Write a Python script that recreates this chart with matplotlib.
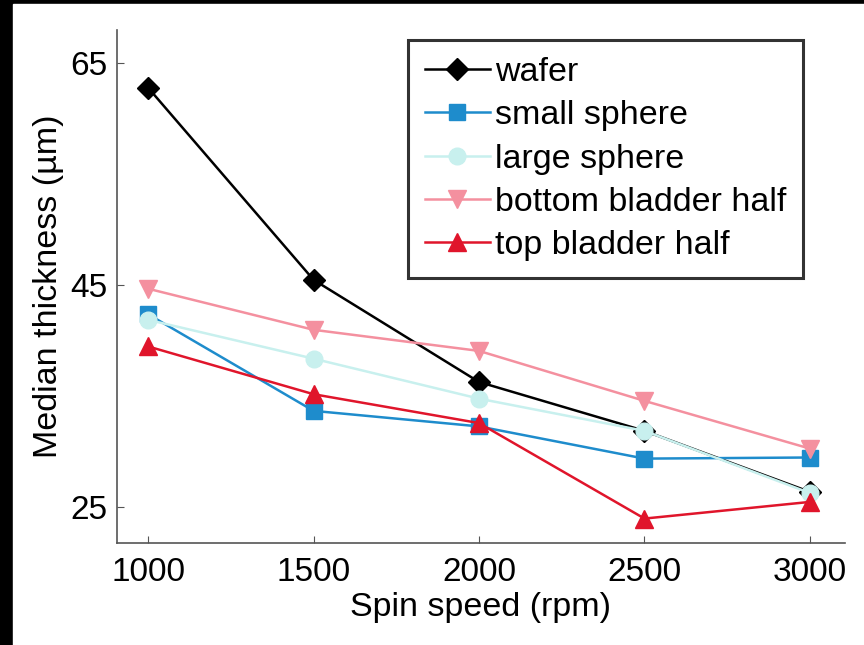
import matplotlib
matplotlib.use("Agg")
import matplotlib.pyplot as plt
from matplotlib.patches import Rectangle

plt.rcParams['font.family'] = ['Liberation Sans', 'DejaVu Sans']

speeds = [1000, 1500, 2000, 2500, 3000]
wafer = [62.8, 45.5, 36.3, 31.9, 26.4]
small_sphere = [42.4, 33.7, 32.3, 29.4, 29.5]
large_sphere = [41.9, 38.4, 34.8, 31.9, 26.3]
bottom_half = [44.7, 41.0, 39.1, 34.6, 30.3]
top_half = [39.5, 35.2, 32.6, 24.0, 25.5]

fig = plt.figure(figsize=(8.64, 6.45), dpi=100, facecolor='black')
# white paper inside black scan border
fig.patches.append(Rectangle((13 / 864, 0), 1, (645 - 4) / 645,
                             transform=fig.transFigure, color='white', zorder=-10))

ax = fig.add_axes([117 / 864, (645 - 543) / 645, (845 - 117) / 864, (543 - 30) / 645])
ax.set_facecolor('white')

ax.plot(speeds, wafer, color='black', marker='D', ms=11, lw=1.8, label='wafer')
ax.plot(speeds, small_sphere, color='#1e8ccc', marker='s', ms=12, lw=1.8, label='small sphere')
ax.plot(speeds, large_sphere, color='#c8f0ee', marker='o', ms=12, lw=1.8, label='large sphere')
ax.plot(speeds, bottom_half, color='#f4909f', marker='v', ms=13, lw=1.8, label='bottom bladder half')
ax.plot(speeds, top_half, color='#e0152b', marker='^', ms=13, lw=1.8, label='top bladder half')

ax.set_xlim(906, 3106)
ax.set_ylim(21.8, 68)
ax.set_xticks(speeds)
ax.set_yticks([25, 45, 65])
ax.tick_params(direction='in', length=5, width=0.8, labelsize=24, color='#555555', pad=7)
ax.tick_params(axis='x', pad=10)
for s in ['top', 'right']:
    ax.spines[s].set_visible(False)
for s in ['left', 'bottom']:
    ax.spines[s].set_color('#555555')
    ax.spines[s].set_linewidth(1.2)

ax.set_xlabel('Spin speed (rpm)', fontsize=24.5, labelpad=3)
ax.set_ylabel('Median thickness (µm)', fontsize=24.5, labelpad=4)

leg = ax.legend(loc='upper left', bbox_to_anchor=((408 - 117) / 728, (543 - 40) / 513),
                fontsize=24.5, frameon=True, fancybox=False, borderpad=0.5,
                labelspacing=0.36, handlelength=1.9, handletextpad=0.15,
                borderaxespad=0)
leg.get_frame().set_edgecolor('black')
leg.get_frame().set_linewidth(2.2)

fig.savefig('out.png', dpi=100, facecolor=fig.get_facecolor())
